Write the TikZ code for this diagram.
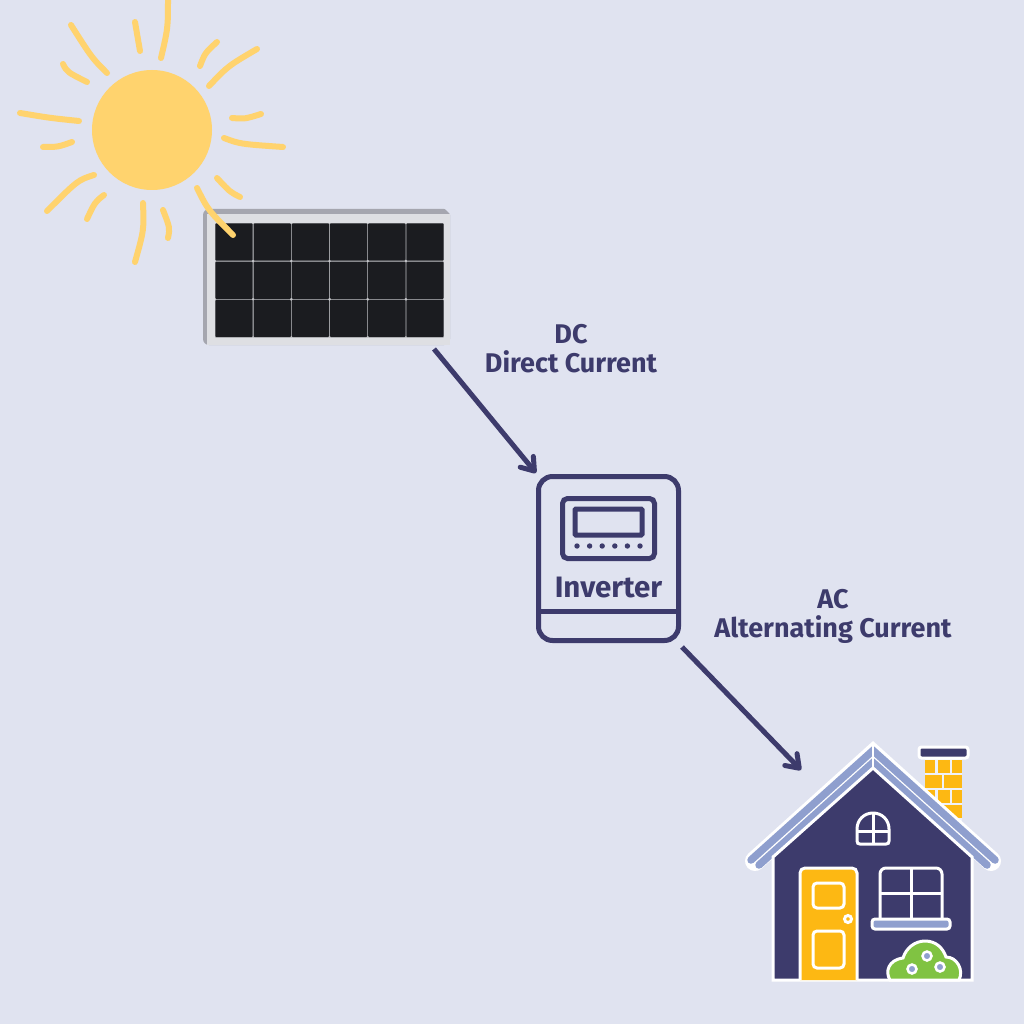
\documentclass[tikz,border=0pt]{standalone}
\usepackage{fontspec}
\setmainfont{Fira Sans}
\usetikzlibrary{arrows.meta}
\definecolor{bgblue}{HTML}{E0E3F0}
\definecolor{navy}{HTML}{3D3B6C}
\definecolor{sunyellow}{HTML}{FFD36E}
\definecolor{cellblack}{HTML}{1B1C20}
\definecolor{framelight}{HTML}{DEDFE3}
\definecolor{framegray}{HTML}{A5A6AF}
\definecolor{gridgray}{HTML}{C4C5C9}
\definecolor{roofblue}{HTML}{8F9FCE}
\definecolor{dooryellow}{HTML}{FDB813}
\definecolor{bushgreen}{HTML}{80C342}
\tikzset{
  sunray/.style={sunyellow, line width=6pt, line cap=round},
  flow/.style={navy, line width=5pt, -{Straight Barb[length=12pt,width=17pt,line width=5pt,round]}},
  flowlabel/.style={navy, font=\bfseries\fontsize{27}{29}\selectfont, align=center, inner sep=0pt},
  outline/.style={draw=navy, line width=5pt},
  wline/.style={draw=white, line width=3pt},
  cell/.style={fill=cellblack, rounded corners=1pt, minimum size=37.4pt, inner sep=0pt},
  brick/.style={fill=dooryellow},
  flower/.style={circle, draw=white, fill=roofblue, line width=2.5pt, minimum size=9pt, inner sep=0pt}
}
\begin{document}
\begin{tikzpicture}[x=1pt,y=-1pt]
\useasboundingbox (0,0) rectangle (1024,1024);
\fill[bgblue] (0,0) rectangle (1024,1024);

\fill[framegray, rounded corners=6pt] (203,345) rectangle (450,209);
\fill[bgblue] (445,209) -- (450,209) -- (450,214) -- cycle;
\node[fill=framelight, minimum width=243pt, minimum height=131pt, inner sep=0pt] (panel) at (328.5,279.5) {};
\fill[gridgray] (215,223) rectangle (444,338);
\foreach \i in {0,...,5} {
  \foreach \j in {0,...,2} {
    \node[cell] (cell_\i_\j) at (234+\i*38.2,242+\j*38.2) {};
  }
}

\fill[sunyellow] (152,130) circle (60pt);
\foreach \ax/\ay/\bx/\by/\cx/\cy in {
  168/-2/168/28/161/58, 135/22/137/37/140/51, 71/25/92/58/107/73, 63/64/67/72/87/82,
  20/113/50/118/79/121, 43/147/58/147/72/142, 94/175/78/180/47/211, 104/195/95/202/87/219,
  143/203/144/230/135/262, 163/210/170/228/168/238, 197/188/208/210/233/235, 217/178/230/192/240/197,
  224/138/240/144/283/147, 232/118/245/119/261/114, 209/86/228/66/257/49, 200/66/205/53/217/42} {
  \draw[sunray] (\ax,\ay) .. controls (\bx,\by) .. (\cx,\cy);
}

\node[outline, rounded corners=14pt, minimum width=140pt, minimum height=164pt, inner sep=0pt] (inverter) at (608.5,558.5) {};
\draw[outline] (inverter.west |- 0,611) -- (inverter.east |- 0,611);
\node[outline, rounded corners=5pt, minimum width=92pt, minimum height=60pt, inner sep=0pt] (screen) at (608.5,528.5) {};
\node[outline, rounded corners=1pt, minimum width=67pt, minimum height=26pt, inner sep=0pt] (display) at (608.5,522) {};
\foreach \i in {0,...,5} {
  \fill[navy] (577+\i*12.6,546) circle (2.7pt);
}
\node[navy, font=\bfseries\fontsize{29.5}{30}\selectfont, inner sep=0pt] (invlabel) at (608.5,588) {Inverter};

\node[flowlabel] (dclabel) at (571,349) {DC\\Direct Current};
\node[flowlabel] (aclabel) at (833,616.5) {AC\\Alternating Current};

\node[inner sep=0pt, minimum size=0pt] (house) at (873,860) {};
\coordinate (dcfrom) at (434,349);
\coordinate (dcto) at (536,473);
\coordinate (acfrom) at (682,647);
\coordinate (acto) at (801,770);
\draw[flow] (dcfrom) -- (dcto);
\draw[flow] (acfrom) -- (acto);

\fill[white!50!bgblue] (925,758) rectangle (962,825);
\foreach \y in {760,790} {
  \fill[brick] (925,\y) rectangle +(10,12.5);
  \fill[brick] (938,\y) rectangle +(11.5,12.5);
  \fill[brick] (952,\y) rectangle +(9.5,12.5);
}
\foreach \y in {775,805} {
  \fill[brick] (925,\y) rectangle +(16.5,12.5);
  \fill[brick] (944,\y) rectangle +(17.5,12.5);
}
\draw[wline, fill=navy, rounded corners=2.5pt] (919,747) rectangle (968,758);

\draw[white, line width=20pt, line cap=round, line join=miter] (755,861) -- (873,754.5) -- (991,861);
\draw[roofblue, line width=7.5pt, line cap=round] (751,860) -- (873,750.5) -- (995,860);
\draw[roofblue, line width=7.5pt, line cap=round] (759,865) -- (873,762.5) -- (987,865);
\draw[white, line width=2pt] (873,743) -- (873,768);

\draw[wline, fill=navy] (773,857) -- (873,768) -- (972,857) -- (972,980) -- (773,980) -- cycle;
\draw[wline] (857,829) .. controls (857,820) and (864,813) .. (873,813) .. controls (882,813) and (889,820) .. (889,829) -- (889,841) .. controls (889,843) and (888,844) .. (886,844) -- (860,844) .. controls (858,844) and (857,843) .. (857,841) -- cycle;
\draw[wline] (873,813) -- (873,844);
\draw[wline] (857,831) -- (889,831);

\draw[wline, fill=dooryellow, rounded corners=5pt] (800,980) -- (800,868) -- (857,868) -- (857,980);
\draw[wline, rounded corners=4pt] (813,883) rectangle (844,908);
\draw[wline, rounded corners=4pt] (813,931) rectangle (844,968);
\draw[wline] (848,919) circle (3.5pt);

\draw[wline, rounded corners=6pt] (880,921) -- (880,868) -- (942,868) -- (942,921);
\draw[wline] (911,868) -- (911,921);
\draw[wline] (880,893) -- (942,893);
\draw[wline, fill=roofblue, rounded corners=3pt] (872,919) rectangle (950,929);

\draw[wline, fill=bushgreen] (890,980) .. controls (885,972) and (888,960) .. (903,958) .. controls (906,948) and (915,941) .. (925,941) .. controls (936,941) and (943,948) .. (946,957) .. controls (957,957) and (964,970) .. (959,980) -- cycle;
\node[flower] (flowera) at (927,956) {};
\node[flower] (flowerb) at (912,969) {};
\node[flower] (flowerc) at (940,967) {};
\end{tikzpicture}
\end{document}
